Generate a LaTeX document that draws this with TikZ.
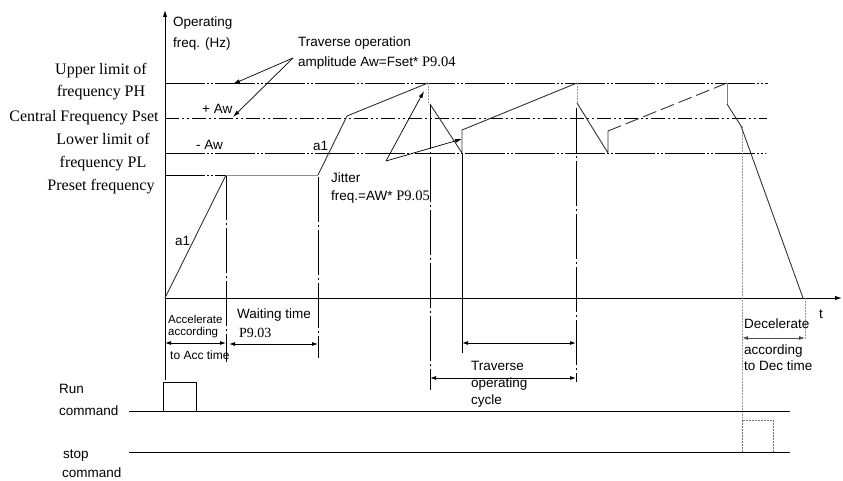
\documentclass[tikz,border=0pt]{standalone}
\usepackage{fontspec}
\setmainfont{Liberation Serif}
\setsansfont{Liberation Sans}
\usetikzlibrary{arrows.meta}
\newcommand{\serifpar}[1]{{\rmfamily\fontsize{14.5}{16}\selectfont #1}}
\begin{document}
\begin{tikzpicture}[x=1pt,y=-1pt,
  lbl/.style={font=\rmfamily\fontsize{16}{22}\selectfont, inner sep=0, align=center},
  sf/.style={font=\sffamily\fontsize{13.5}{20}\selectfont, inner sep=0, align=left, anchor=west},
  smallsf/.style={font=\sffamily\fontsize{11.5}{12}\selectfont, inner sep=0, align=left, anchor=west},
  axis/.style={line width=1pt, -{Latex[length=7pt,width=4.5pt]}},
  refline/.style={line width=0.9pt, dash pattern=on 40pt off 2pt on 2pt off 2pt on 2pt off 2pt},
  cenline/.style={line width=0.9pt, dash pattern=on 14pt off 3pt on 2pt off 3pt on 2pt off 3pt},
  vline/.style={line width=0.9pt, dash pattern=on 45pt off 3pt on 2pt off 3pt},
  wave/.style={line width=0.9pt, black!80},
  greyv/.style={line width=0.8pt, black!40, dash pattern=on 2pt off 1pt},
  dim/.style={line width=0.9pt, {Latex[length=6pt,width=4pt]}-{Latex[length=6pt,width=4pt]}},
  ann/.style={line width=0.7pt, -{Latex[length=7pt,width=4pt]}},
  sig/.style={line width=0.9pt}]
\useasboundingbox (0,0) rectangle (843,481);

% ---------- coordinates ----------
\coordinate (yb) at (165,380);
\coordinate (yt) at (165,10);
\coordinate (O) at (165,298);
\coordinate (tx) at (842,298);

\coordinate (ph0) at (165,83);  \coordinate (ph1) at (768,83);
\coordinate (ps0) at (165,118); \coordinate (ps1) at (767,118);
\coordinate (pl0) at (165,153); \coordinate (pl1) at (766,153);
\coordinate (pr0) at (165,175); \coordinate (pr1) at (226,175);

% waveform points
\coordinate (w1) at (226,175);
\coordinate (w2) at (318,175);
\coordinate (w3) at (347,116);
\coordinate (w4) at (428,83);
\coordinate (w4b) at (428,104);
\coordinate (w5) at (430,104);
\coordinate (w6) at (462,153);
\coordinate (w7) at (462,130);
\coordinate (w8) at (577,83);
\coordinate (w8b) at (577,103);
\coordinate (w9) at (608,153);
\coordinate (w10) at (608,131);
\coordinate (w11) at (727,83);
\coordinate (w11b) at (727,104);
\coordinate (w12) at (741,126);
\coordinate (w13) at (803,298);

% vertical markers
\coordinate (v1a) at (226,175); \coordinate (v1b) at (226,362);
\coordinate (v2a) at (318,177); \coordinate (v2b) at (318,358);
\coordinate (v3a) at (430,104); \coordinate (v3b) at (430,390);
\coordinate (v4a) at (462,153); \coordinate (v4b) at (462,353);
\coordinate (v5a) at (576,108); \coordinate (v5b) at (576,382);
\coordinate (v6a) at (742,126); \coordinate (v6b) at (742,447);
\coordinate (v7a) at (805,298); \coordinate (v7b) at (805,340);

% dimension arrows
\coordinate (acc0) at (165,343); \coordinate (acc1) at (226,343);
\coordinate (wt0) at (229,344);  \coordinate (wt1) at (318,344);
\coordinate (tr0) at (462,343);  \coordinate (tr1) at (576,343);
\coordinate (tc0) at (430,378);  \coordinate (tc1) at (576,378);
\coordinate (dc0) at (742,338);  \coordinate (dc1) at (805,338);

% annotation arrows
\coordinate (aw) at (293,58);
\coordinate (awH) at (233,84);
\coordinate (awS) at (233,117);
\coordinate (jt) at (386,161);
\coordinate (jt1) at (424,91);
\coordinate (jt2) at (462,139);

% signals
\coordinate (r0) at (129,411); \coordinate (r1) at (790,411);
\coordinate (rp0) at (163,411); \coordinate (rp1) at (163,382);
\coordinate (rp2) at (196,382); \coordinate (rp3) at (196,411);
\coordinate (s0) at (129,452); \coordinate (s1) at (790,452);
\coordinate (sp0) at (742,452); \coordinate (sp1) at (742,420);
\coordinate (sp2) at (773,420); \coordinate (sp3) at (773,452);

% ---------- axes ----------
\draw[axis] (yb) -- (yt);
\draw[axis] (O) -- (tx);

% ---------- reference lines ----------
\draw[refline] (ph0) -- (ph1);
\draw[cenline] (ps0) -- (ps1);
\draw[refline] (pl0) -- (pl1);
\draw[refline] (pr0) -- (pr1);

% ---------- vertical markers ----------
\draw[vline] (v1a) -- (v1b);
\draw[vline] (v2a) -- (v2b);
\draw[vline] (v3a) -- (v3b);
\draw[line width=0.9pt] (v4a) -- (v4b);
\draw[vline] (v5a) -- (v5b);
\draw[greyv] (v6a) -- (v6b);
\draw[greyv] (v7a) -- (v7b);

% ---------- waveform ----------
\draw[wave] (O) -- (w1);
\draw[wave, black!45] (w1) -- (w2);
\draw[wave] (w2) -- (w3) -- (w4);
\draw[greyv] (w4) -- (w4b);
\draw[wave] (w5) -- (w6) -- (w7) -- (w8);
\draw[greyv] (w8) -- (w8b);
\draw[wave] (w8b) -- (w9) -- (w10);
\draw[wave, dash pattern=on 14pt off 5pt] (w10) -- (w11);
\draw[wave, black!50] (w11) -- (w11b);
\draw[wave] (w11b) -- (w12) -- (w13);

% ---------- dimension arrows ----------
\draw[dim] (acc0) -- (acc1);
\draw[dim] (wt0) -- (wt1);
\draw[dim] (tr0) -- (tr1);
\draw[dim] (tc0) -- (tc1);
\draw[dim, black!70] (dc0) -- (dc1);

% ---------- annotation arrows ----------
\draw[ann] (aw) -- (awH);
\draw[ann] (aw) -- (awS);
\draw[ann] (jt) -- (jt1);
\draw[ann] (jt) -- (jt2);

% ---------- signals ----------
\draw[sig] (r0) -- (r1);
\draw[sig] (rp0) -- (rp1) -- (rp2) -- (rp3);
\draw[sig] (s0) -- (s1);
\draw[greyv, black!55] (sp0) -- (sp1) -- (sp2) -- (sp3);

% ---------- labels ----------
\node[lbl] (lph) at (101,82) {Upper limit of\\frequency PH};
\node[lbl] (lps) at (84,118) {Central Frequency Pset};
\node[lbl, font=\rmfamily\fontsize{16}{23}\selectfont] (lpl) at (103,152) {Lower limit of\\frequency PL};
\node[lbl] (lpr) at (101,187) {Preset frequency};

\node[sf, font=\sffamily\fontsize{13.5}{21}\selectfont] (yl) at (173,34) {Operating\\freq. (Hz)};
\node[sf] (paw) at (202,109) {+ Aw};
\node[sf] (maw) at (196,145) {- Aw};
\node[sf] (tra) at (298,53) {Traverse operation\\amplitude Aw=Fset* \serifpar{P9.04}};
\node[sf] (a1a) at (175,241) {a1};
\node[sf] (a1b) at (313,146) {a1};
\node[sf, font=\sffamily\fontsize{13.5}{18}\selectfont] (jit) at (331,188) {Jitter\\freq.=AW* \serifpar{P9.05}};
\node[sf] (tl) at (819,314) {t};

\node[smallsf] (acc) at (168,327) {Accelerate\\according};
\node[smallsf, font=\sffamily\fontsize{12}{12}\selectfont] (acc2) at (170,355) {to Acc time};
\node[sf] (wtt) at (237,315) {Waiting time};
\node[sf, font=\rmfamily\fontsize{14}{16}\selectfont] (wtp) at (239,333) {P9.03};
\node[sf, font=\sffamily\fontsize{13.5}{17}\selectfont] (trc) at (471,384) {Traverse\\operating\\cycle};
\node[sf] (dec) at (744,324) {Decelerate};
\node[sf, font=\sffamily\fontsize{13.5}{16}\selectfont] (dec2) at (744,358) {according\\to Dec time};

\node[sf] (run1) at (59,389) {Run};
\node[sf] (run2) at (59,411) {command};
\node[sf] (stp1) at (63,456) {stop};
\node[sf] (stp2) at (62,473) {command};
\end{tikzpicture}
\end{document}
